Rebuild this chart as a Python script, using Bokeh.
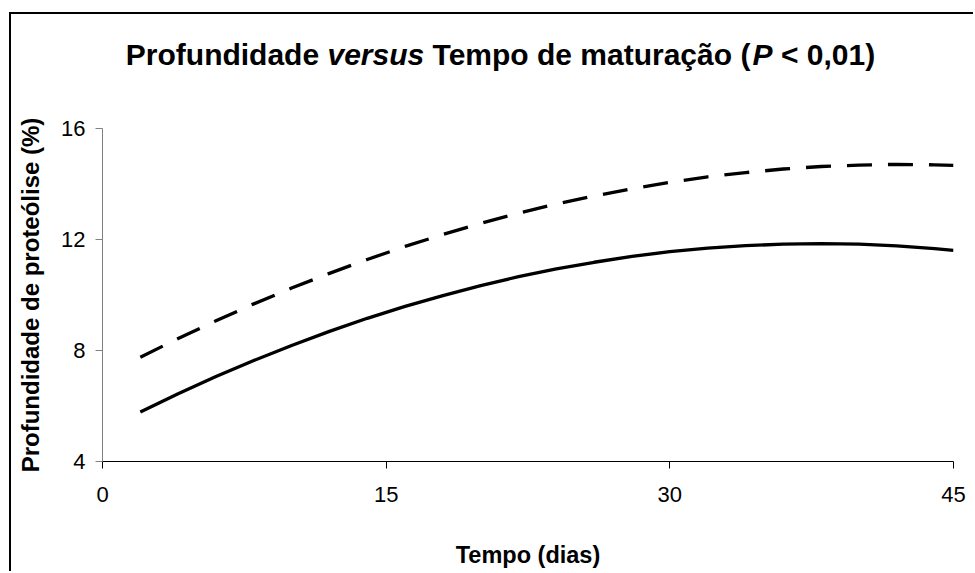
from bokeh.plotting import figure
from bokeh.models import Range1d, FixedTicker
from bokeh.layouts import column
from bokeh.core.properties import value
from bokeh.embed import file_html
from bokeh.resources import INLINE

# ---- data ----
dias = [2, 4, 6, 8, 10, 12, 14, 16, 18, 20, 22, 24, 26, 28, 30, 32, 34, 36, 38, 40, 42, 44, 45]
prof_solid = [5.78, 6.44, 7.06, 7.64, 8.18, 8.69, 9.16, 9.59, 9.98, 10.34, 10.66, 10.94,
              11.18, 11.39, 11.56, 11.69, 11.78, 11.83, 11.85, 11.83, 11.77, 11.67, 11.61]
prof_dashed = [7.76, 8.43, 9.07, 9.68, 10.25, 10.78, 11.28, 11.75, 12.18, 12.58, 12.95, 13.28,
               13.57, 13.83, 14.06, 14.26, 14.41, 14.54, 14.63, 14.68, 14.71, 14.69, 14.67]
x_ticks = [0, 15, 30, 45]
y_ticks = [4, 8, 12, 16]
title_parts = ["Profundidade", "versus", "Tempo de maturação (", "P", "< 0,01)"]
title_styles = ["bold", "bold italic", "bold", "bold italic", "bold"]
title_gap_after = [1, 1, 0, 1, 0]   # spaces following each part

FONT = "Liberation Sans"
MARGIN_L, MARGIN_T = 9, 12
CANVAS_X, CANVAS_Y = MARGIN_L + 2, MARGIN_T + 2   # page position of the layout
W = 962
HT = 86                       # title strip height
HM = 471                      # main chart height
MAIN_Y = CANVAS_Y + HT        # page y of main figure top
FRAME_L, FRAME_T, FRAME_R, FRAME_B = 102, 128, 953, 461

# ---- title strip: its frame is aligned with the main frame (x 102..953) ----
t = figure(width=W, height=HT, output_backend="svg", toolbar_location=None,
           x_range=Range1d(FRAME_L, FRAME_R), y_range=Range1d(MAIN_Y, CANVAS_Y),
           x_axis_location=None, y_axis_location=None,
           min_border=0, min_border_left=FRAME_L - CANVAS_X,
           min_border_right=CANVAS_X + W - FRAME_R,
           min_border_top=0, min_border_bottom=0)
t.outline_line_color = None
t.xgrid.visible = False
t.ygrid.visible = False

TS = 30
SP = 0.278
# advance widths in em (Arial / Liberation Sans Bold metrics)
part_em = [6.445, 3.224, 3.278 + SP + 1.167 + SP + 5.057 + SP + 0.333, 0.667, 0.584 + SP + 2.279]
total = (sum(part_em) + sum(title_gap_after) * SP) * TS
x_page = 500 - total / 2
TITLE_BASE = 54
for txt, style, em, gap in zip(title_parts, title_styles, part_em, title_gap_after):
    t.text(x=[x_page], y=[TITLE_BASE], text=[txt],
           text_font=value(FONT), text_font_size=f"{TS}px", text_font_style=style,
           text_color="black", text_baseline="alphabetic", text_align="left")
    x_page += (em + gap * SP) * TS

# ---- main chart ----
p = figure(width=W, height=HM, output_backend="svg", toolbar_location=None,
           x_range=Range1d(0, 45), y_range=Range1d(4, 16),
           min_border_left=FRAME_L - CANVAS_X, min_border_right=CANVAS_X + W - FRAME_R,
           min_border_top=FRAME_T - MAIN_Y, min_border_bottom=MAIN_Y + HM - FRAME_B)
p.outline_line_color = None
p.xgrid.visible = False
p.ygrid.visible = False

p.line(dias, prof_dashed, line_color="black", line_width=3.3, line_dash="25 16")
p.line(dias, prof_solid, line_color="black", line_width=3.3)

xa = p.xaxis[0]
xa.ticker = FixedTicker(ticks=x_ticks)
xa.axis_line_color = "black"
xa.major_tick_line_color = "black"
xa.minor_tick_line_color = None
xa.major_tick_in = 0
xa.major_tick_out = 7
xa.major_label_text_font = FONT
xa.major_label_text_font_size = "22px"
xa.major_label_text_color = "black"
xa.major_label_standoff = 18
xa.axis_label = "Tempo (dias)"
xa.axis_label_text_font = FONT
xa.axis_label_text_font_size = "23.5px"
xa.axis_label_text_font_style = "bold"
xa.axis_label_text_color = "black"
xa.axis_label_standoff = 37

ya = p.yaxis[0]
ya.ticker = FixedTicker(ticks=y_ticks)
ya.axis_line_color = "#808080"
ya.major_tick_line_color = "#808080"
ya.minor_tick_line_color = None
ya.major_tick_in = 0
ya.major_tick_out = 7
ya.major_label_text_font = FONT
ya.major_label_text_font_size = "22px"
ya.major_label_text_color = "black"
ya.major_label_standoff = 10
ya.axis_label = "Profundidade de proteólise (%)"
ya.axis_label_text_font = FONT
ya.axis_label_text_font_size = "24px"
ya.axis_label_text_font_style = "bold"
ya.axis_label_text_color = "black"
ya.axis_label_standoff = 14

layout = column(t, p, spacing=0)
layout.styles = {"border-left": "2px solid black", "border-top": "2px solid black",
                 "margin-left": f"{MARGIN_L}px", "margin-top": f"{MARGIN_T}px"}

open("out.html", "w").write(file_html(layout, INLINE))
